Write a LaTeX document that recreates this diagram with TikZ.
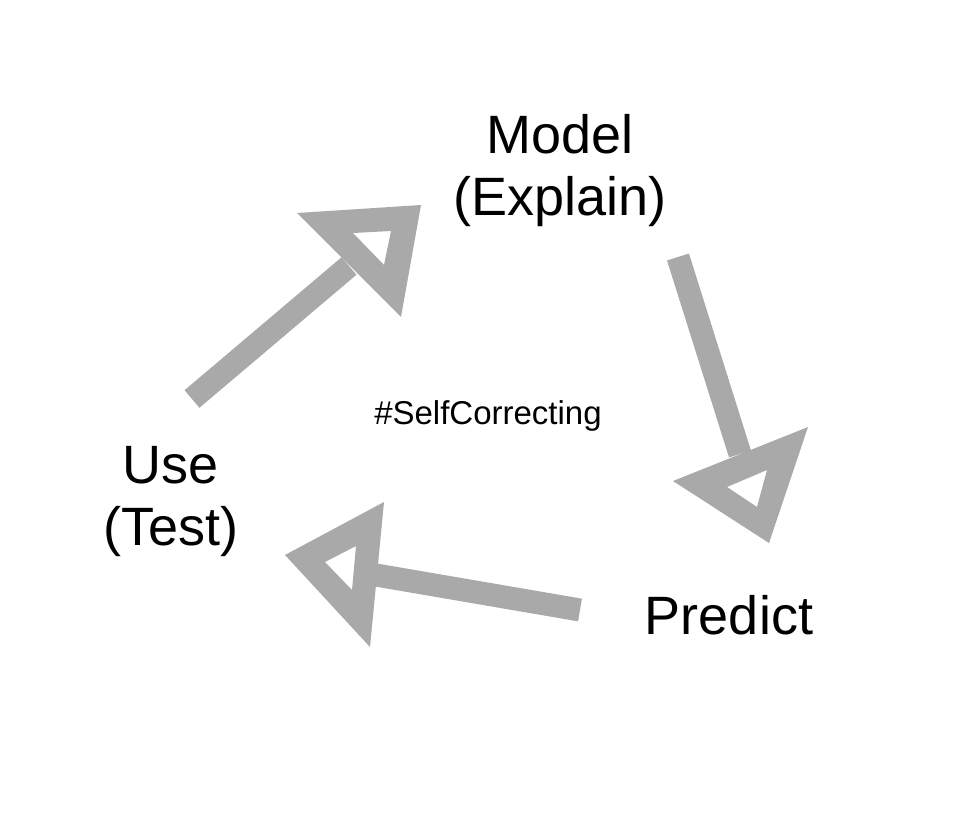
\documentclass[tikz,border=0pt]{standalone}
\usepackage{fontspec}
\setmainfont{Liberation Sans}
\begin{document}
\begin{tikzpicture}[x=1pt,y=-1pt,
  shaft/.style={draw=arrowgray,line width=23pt},
  head/.style={fill=arrowgray,even odd rule},
  biglabel/.style={font=\fontsize{54}{62}\selectfont,align=center,anchor=base,inner sep=0pt},
  smalllabel/.style={font=\fontsize{33}{38}\selectfont,anchor=base,inner sep=0pt}]
\definecolor{arrowgray}{RGB}{169,169,169}
\useasboundingbox[fill=white] (0,0) rectangle (959,816);
% labels (base anchor = baseline of last line)
\node[biglabel] (model) at (560,215) {Model\\(Explain)};
\node[biglabel] (use) at (171,545) {Use\\(Test)};
\node[biglabel] (predict) at (729,634) {Predict};
\node[smalllabel] (tag) at (488,424) {\#SelfCorrecting};
% arrow 1: Use -> Model
\coordinate (a1tail) at (192,399);
\coordinate (a1base) at (349,266);
\draw[shaft] (a1tail) -- (a1base);
\fill[head] (297,213) -- (421,205) -- (401,317) -- cycle
            (353,233) -- (391,231) -- (384,265) -- cycle;
% arrow 2: Model -> Predict
\coordinate (a2tail) at (678,257);
\coordinate (a2base) at (740,454);
\draw[shaft] (a2tail) -- (a2base);
\fill[head] (673,481) -- (808,427) -- (769,543) -- cycle
            (727,487) -- (767,470) -- (757,507) -- cycle;
% arrow 3: Predict -> Use
\coordinate (a3tail) at (580,610);
\coordinate (a3base) at (376,575);
\draw[shaft] (a3tail) -- (a3base);
\fill[head] (285,555) -- (384,502) -- (370,647) -- cycle
            (325,562) -- (356,546) -- (352,590) -- cycle;
\end{tikzpicture}
\end{document}
